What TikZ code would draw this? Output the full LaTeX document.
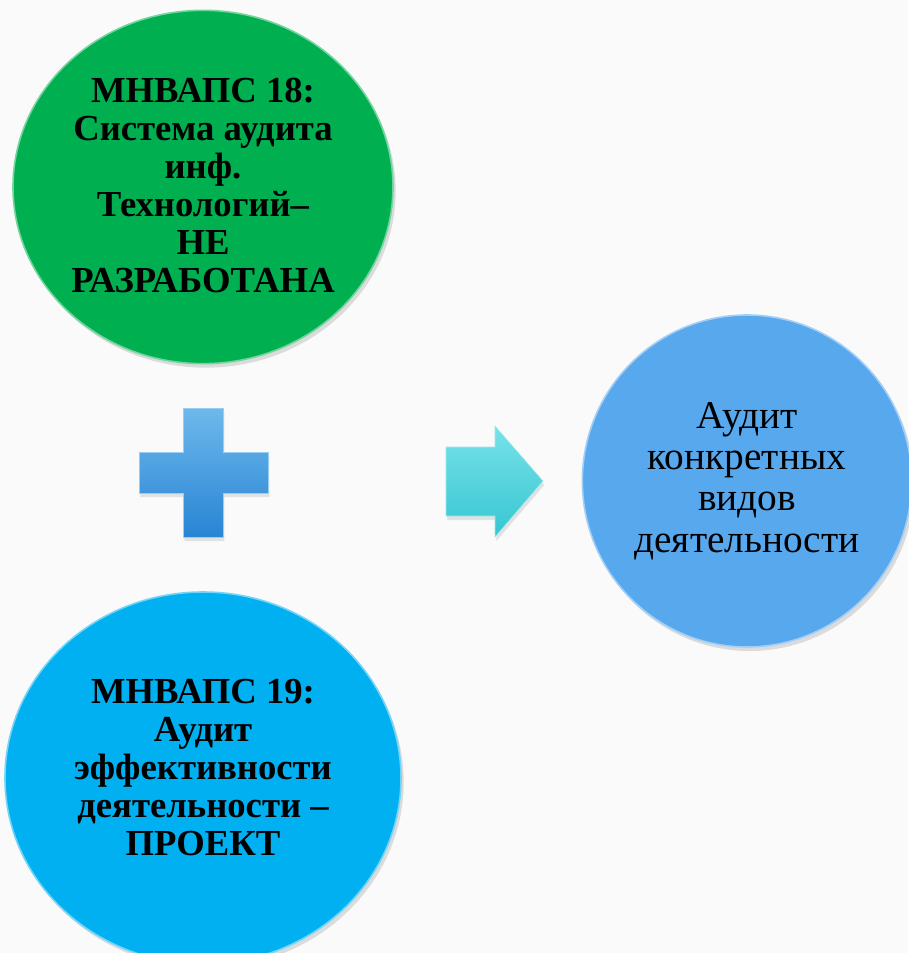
\documentclass[tikz,border=0pt]{standalone}
\usepackage{fontspec}
\setmainfont{Liberation Serif}
\usetikzlibrary{shapes.geometric,shadows}
\definecolor{grn}{RGB}{0, 176, 80}
\definecolor{cyn}{RGB}{0, 176, 240}
\definecolor{sky}{RGB}{88, 168, 238}
\definecolor{plt}{RGB}{110, 185, 236}
\definecolor{plb}{RGB}{40, 132, 212}
\definecolor{art}{RGB}{120, 226, 232}
\definecolor{arb}{RGB}{54, 198, 210}
\definecolor{bgr}{RGB}{250, 250, 250}

\tikzset{
  ball/.style={ellipse, inner sep=0pt, line width=1.2pt,
    drop shadow={opacity=0.25, shadow xshift=2pt, shadow yshift=-3pt}},
  boldtxt/.style={align=center, font=\bfseries\fontsize{27.5}{28.5}\selectfont},
  thintxt/.style={align=center, font=\fontsize{29.5}{31}\selectfont},
}

\begin{document}
\begin{tikzpicture}[x=0.75pt, y=-0.75pt]
        \fill[bgr] (0, 0) rectangle (908, 953);
        \useasboundingbox (0, 0) rectangle (908, 953);

        \node[ball, fill=grn, draw=grn!55!white, minimum width=285pt, minimum height=265pt] (std18) at (203, 187) {};
        \node[ball, fill=cyn, draw=cyn!55!white, minimum width=297pt, minimum height=279pt] (std19) at (203, 778) {};
        \node[ball, fill=sky, draw=sky!55!white, minimum width=247pt, minimum height=249pt] (result) at (747, 481) {};

        \node[boldtxt] (std18txt) at ([yshift=1pt]std18.center) {МНВАПС 18:\\Система аудита\\инф.\\Технологий–\\НЕ\\РАЗРАБОТАНА};
        \node[boldtxt] (std19txt) at ([yshift=8pt]std19.center) {МНВАПС 19:\\Аудит\\эффективности\\деятельности –\\ПРОЕКТ};
        \node[thintxt] (resulttxt) at (result.center) {Аудит\\конкретных\\видов\\деятельности};

        \shade[top color=plt, bottom color=plb, draw=plt!70!white, thin,
          drop shadow={opacity=0.2, shadow xshift=1pt, shadow yshift=-3pt}]
          (183, 408) -- (223, 408) -- (223, 452) -- (268, 452) -- (268, 493) -- (223, 493)
          -- (223, 537) -- (183, 537) -- (183, 493) -- (139, 493) -- (139, 452) -- (183, 452) -- cycle;
        \shade[top color=art, bottom color=arb, draw=art!70!white, thin,
          drop shadow={opacity=0.2, shadow xshift=1pt, shadow yshift=-3pt}]
          (446, 447) -- (495, 447) -- (495, 426) -- (543, 481) -- (495, 537) -- (495, 516) -- (446, 516) -- cycle;
    \end{tikzpicture}
\end{document}
